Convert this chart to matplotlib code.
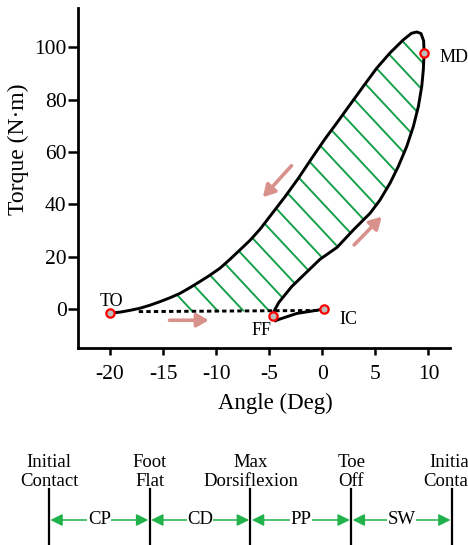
import numpy as np
import matplotlib
matplotlib.use('Agg')
import matplotlib.pyplot as plt
from matplotlib.patches import Polygon

plt.rcParams['font.family'] = ['Liberation Serif', 'DejaVu Serif']
plt.rcParams['axes.unicode_minus'] = False

# IC -> FF
ic_ff_angle = [0.2, -1.0, -2.4, -3.6, -4.4]
ic_ff_torque = [0.0, -0.8, -1.7, -3.3, -4.4]

# FF -> MD -> TO
loop_angle = [-4.4, -4.65, -4.55, -4.1, -2.9, -1.6, -0.22, 1.4, 2.92, 4.5, 5.44,
              6.38, 7.16, 7.95, 8.58, 9.05, 9.37, 9.52, 9.59, 9.55, 9.3, 8.9, 8.4,
              7.63, 6.38, 5.13, 3.86, 2.61, 1.36, 0.25, -1.0, -2.25, -3.5, -4.75,
              -5.85, -6.8, -7.76, -8.7, -9.64, -10.6, -11.53, -12.5, -13.4, -14.35,
              -15.3, -16.2, -17.18, -18.1, -19.07, -20.0]
loop_torque = [-4.4, -2.7, -0.8, 2.5, 8.5, 13.6, 19.0, 23.6, 30.2, 36.6, 41.7,
               48.1, 54.5, 62.1, 69.8, 77.4, 85.1, 91.5, 97.9, 102.5, 105.3, 105.9, 105.4,
               102.9, 97.9, 92.1, 85.1, 78.1, 71.1, 65.0, 57.6, 50.0, 43.0, 36.4,
               30.6, 26.3, 22.6, 19.0, 15.6, 12.9, 10.5, 8.1, 6.0, 4.3,
               2.8, 1.5, 0.3, -0.5, -1.2, -1.6]

# swing (dashed)
dash_angle = [-17.3, -0.4]
dash_torque = [-1.0, -0.55]

events = ['TO', 'FF', 'IC', 'MD']
event_angle = [-20.0, -4.68, 0.2, 9.6]
event_torque = [-1.6, -2.7, 0.0, 97.9]

# direction arrows: start, end
arrow_start = [(-2.9, 54.8), (3.0, 24.5), (-14.4, -4.3)]
arrow_end = [(-5.6, 42.7), (5.6, 35.3), (-10.7, -4.3)]

phase_events = ['Initial\nContact', 'Foot\nFlat', 'Max\nDorsiflexion', 'Toe\nOff', 'Initial\nContact']
phases = ['CP', 'CD', 'PP', 'SW']

verde = '#17a04b'
rosa = '#d9918c'

fig = plt.figure(figsize=(4.68, 5.45), dpi=100)
ax = fig.add_axes([0.166, 0.3615, 0.7955, 0.6235])
ax.set_xlim(-23.05, 12.03)
ax.set_ylim(-14.9, 115)

# hachura
pts = np.column_stack([loop_angle[2:], loop_torque[2:]])
area = Polygon(pts, closed=True, fill=False, edgecolor='none')
ax.add_patch(area)
inclinacao = 1.07
disp = ax.transData.transform(pts)
c = disp[:, 1] + inclinacao * disp[:, 0]
inv = ax.transData.inverted()
for cc in np.arange(c.min() + 90, c.max(), 27.5):
    xp = np.array([0.0, 468.0])
    yp = cc - inclinacao * xp
    d = inv.transform(np.column_stack([xp, yp]))
    ln, = ax.plot(d[:, 0], d[:, 1], color=verde, lw=1.4, zorder=1)
    ln.set_clip_path(area)

ax.plot(ic_ff_angle, ic_ff_torque, color='black', lw=2.1, zorder=3)
ax.plot(loop_angle, loop_torque, color='black', lw=2.1, zorder=3, solid_joinstyle='round')
ax.plot(dash_angle, dash_torque, color='black', lw=2.1, dashes=(1.5, 1.1), zorder=3)

ax.plot(event_angle, event_torque, 'o', ms=6, mfc='#bdbdbd', mec='red', mew=1.6, zorder=5)
ax.text(-19.85, 2.8, 'TO', fontsize=13, ha='center', va='center')
ax.text(-5.7, -8.4, 'FF', fontsize=13, ha='center', va='center')
ax.text(2.45, -4.2, 'IC', fontsize=13, ha='center', va='center')
ax.text(11.0, 96, 'MD', fontsize=13, ha='left', va='center', clip_on=False)

for s, e in zip(arrow_start, arrow_end):
    ax.annotate('', xy=e, xytext=s,
                arrowprops=dict(arrowstyle='-|>,head_length=0.7,head_width=0.4',
                                color=rosa, lw=2.6, shrinkA=0, shrinkB=0), zorder=4)

ax.set_xticks([-20, -15, -10, -5, 0, 5, 10])
ax.set_yticks([0, 20, 40, 60, 80, 100])
ax.tick_params(labelsize=15.5, width=1.8, length=5, direction='out')
ax.tick_params(axis='x', pad=7)
ax.tick_params(axis='y', length=7, pad=1)
ax.spines['top'].set_visible(False)
ax.spines['right'].set_visible(False)
ax.spines['left'].set_linewidth(2.0)
ax.spines['bottom'].set_linewidth(2.0)
ax.set_xlabel('Angle (Deg)', fontsize=16.5, va='center')
ax.set_ylabel('Torque (N\u00b7m)', fontsize=17, va='center')
ax.xaxis.set_label_coords(0.532, -0.162)
ax.yaxis.set_label_coords(-0.16, 0.585)

# fases da marcha
ax2 = fig.add_axes([0, 0, 1, 115 / 545])
ax2.set_xlim(-0.486, 4.159)
ax2.set_ylim(0, 115)
ax2.axis('off')
for i, nome in enumerate(phase_events):
    ax2.plot([i, i], [0, 56], color='black', lw=1.6)
    ax2.text(i, 58.5, nome, fontsize=13.5, ha='center', va='baseline', linespacing=1.2)
for i, nome in enumerate(phases):
    ax2.annotate('', xy=(i + 1, 25), xytext=(i, 25),
                 arrowprops=dict(arrowstyle='<|-|>,head_length=0.6,head_width=0.3',
                                 color='#22b24c', lw=1.1, shrinkA=1, shrinkB=1,
                                 mutation_scale=12))
    ax2.text(i + 0.5, 25, nome, fontsize=13.5, ha='center', va='center',
             bbox=dict(facecolor='white', edgecolor='none', pad=0.3))

fig.savefig('out.png', dpi=100)
